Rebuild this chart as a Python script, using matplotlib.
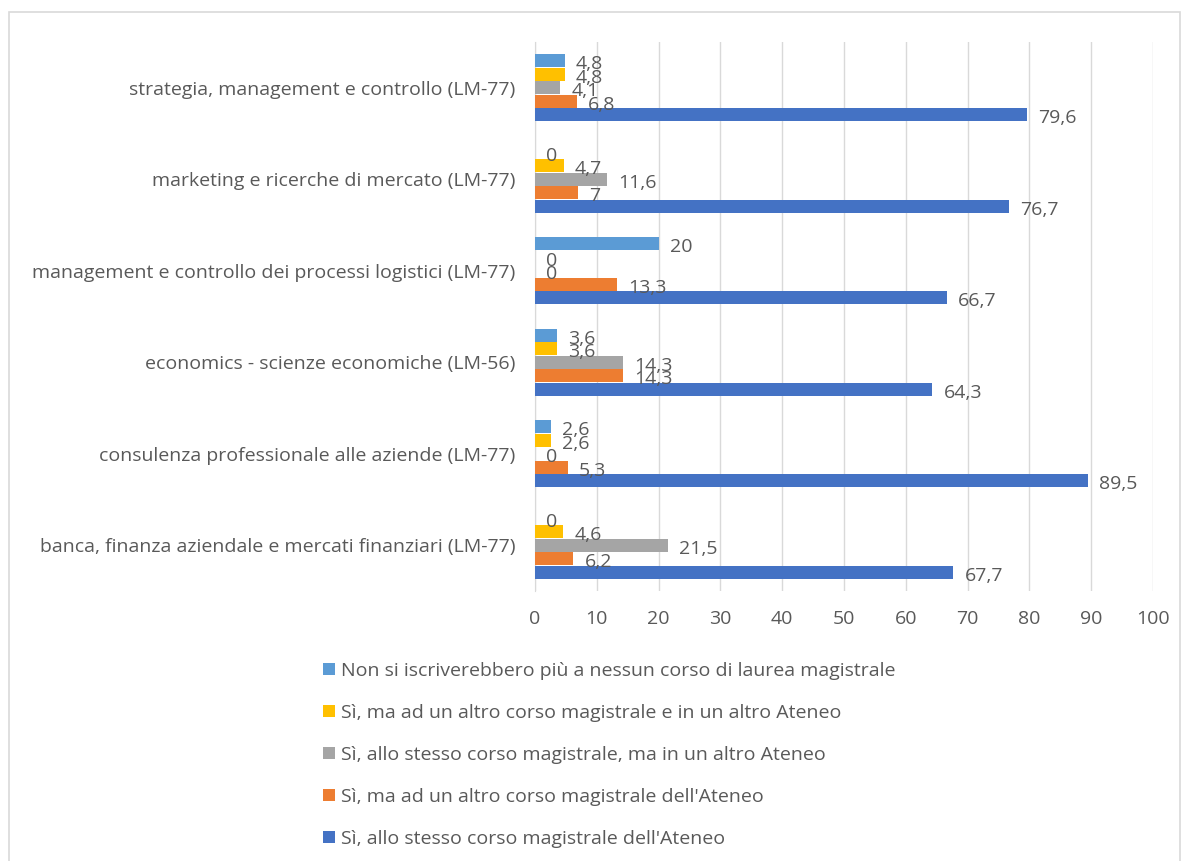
import matplotlib.pyplot as plt
import numpy as np
from matplotlib.patches import Rectangle

plt.rcParams['font.family'] = ['Open Sans', 'DejaVu Sans']

# categories, bottom to top
categories = [
    "banca, finanza aziendale e mercati finanziari (LM-77)",
    "consulenza professionale alle aziende (LM-77)",
    "economics - scienze economiche (LM-56)",
    "management e controllo dei processi logistici (LM-77)",
    "marketing e ricerche di mercato (LM-77)",
    "strategia, management e controllo (LM-77)",
]

stesso_corso = [67.7, 89.5, 64.3, 66.7, 76.7, 79.6]
altro_corso = [6.2, 5.3, 14.3, 13.3, 7, 6.8]
stesso_altro_ateneo = [21.5, 0, 14.3, 0, 11.6, 4.1]
altro_corso_ateneo = [4.6, 2.6, 3.6, 0, 4.7, 4.8]
nessun_corso = [0, 2.6, 3.6, 20, 0, 4.8]

series_names = [
    "Sì, allo stesso corso magistrale dell'Ateneo",
    "Sì, ma ad un altro corso magistrale dell'Ateneo",
    "Sì, allo stesso corso magistrale, ma in un altro Ateneo",
    "Sì, ma ad un altro corso magistrale e in un altro Ateneo",
    "Non si iscriverebbero più a nessun corso di laurea magistrale",
]
series = [stesso_corso, altro_corso, stesso_altro_ateneo, altro_corso_ateneo, nessun_corso]
colors = ["#4472C4", "#ED7D31", "#A5A5A5", "#FFC000", "#5B9BD5"]

fig = plt.figure(figsize=(11.83, 8.61), dpi=100)
ax = fig.add_axes([0.4522, 0.3136, 0.5224, 0.6376])

y = np.arange(len(categories))
step = 0.148
handles = []
for i, (vals, name, col) in enumerate(zip(series, series_names, colors)):
    pos = y + (i - 2) * step
    b = ax.barh(pos, vals, height=step * 0.98, color=col, label=name, zorder=3)
    handles.append(b)
    for p, v in zip(pos, vals):
        txt = f"{v:g}".replace(".", ",")
        ax.annotate(txt, (v, p), xytext=(8, -2.5), textcoords="offset points",
                    ha="left", va="center", fontsize=14, color="#595959", zorder=4)

ax.set_xlim(0, 100)
ax.set_ylim(-0.5, len(categories) - 0.5)
ax.set_xticks(range(0, 101, 10))
ax.set_yticks(y)
ax.set_yticklabels(categories)
ax.tick_params(axis="x", length=0, labelsize=14, labelcolor="#595959", pad=14)
ax.tick_params(axis="y", length=0, labelsize=14, labelcolor="#595959", pad=14)
ax.grid(axis="x", color="#D9D9D9", linewidth=1, zorder=0)
for s in ["top", "right", "bottom"]:
    ax.spines[s].set_visible(False)
ax.spines["left"].set_color("#D9D9D9")

leg = fig.legend(handles[::-1], series_names[::-1], loc="upper left",
                 bbox_to_anchor=(0.273, 0.231), frameon=False, fontsize=14,
                 labelspacing=1.23, handlelength=0.6, handleheight=0.6,
                 handletextpad=0.35, borderpad=0, borderaxespad=0)
for t in leg.get_texts():
    t.set_color("#595959")

fig.patches.append(Rectangle((0.0076, -0.01), 0.99, 0.996, transform=fig.transFigure,
                             fill=False, edgecolor="#D9D9D9", linewidth=1.2))

plt.savefig("out.png")
